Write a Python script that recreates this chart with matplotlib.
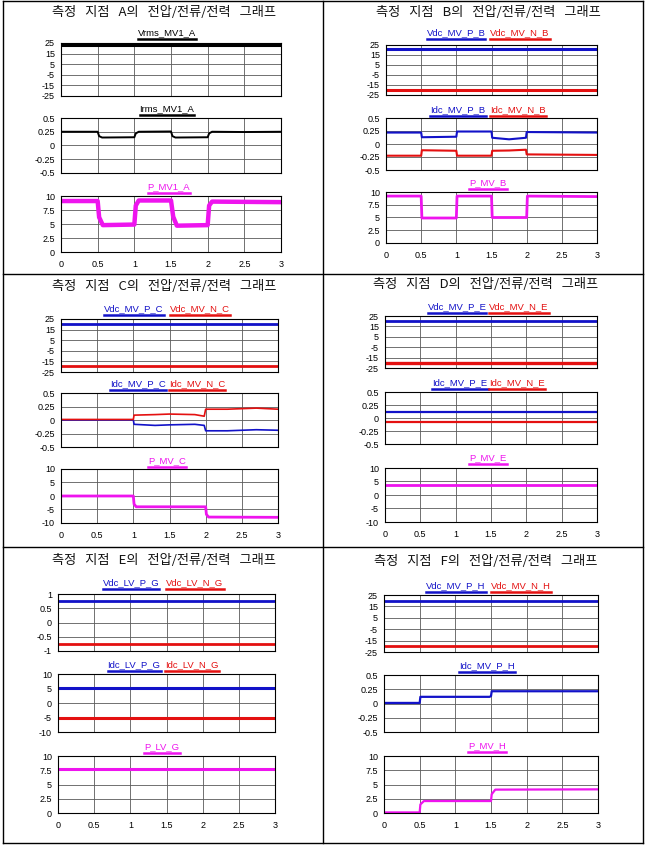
import matplotlib
matplotlib.use('Agg')
import matplotlib.pyplot as plt
from matplotlib.lines import Line2D


# figure size in pixels
W, H = 649, 846

BLUE = '#1212c8'
RED = '#e41010'
MAG = '#ee14ee'
BLACK = '#000000'

titles = ['측정   지점   A의   전압/전류/전력   그래프', '측정   지점   B의   전압/전류/전력   그래프',
          '측정   지점   C의   전압/전류/전력   그래프', '측정   지점   D의   전압/전류/전력   그래프',
          '측정   지점   E의   전압/전류/전력   그래프', '측정   지점   F의   전압/전류/전력   그래프']

x_ticks = [0, 0.5, 1, 1.5, 2, 2.5, 3]
x_tick_labels = ['0', '0.5', '1', '1.5', '2', '2.5', '3']

# y tick sets
yt_v25 = [25, 15, 5, -5, -15, -25]
yt_i05 = [0.5, 0.25, 0, -0.25, -0.5]
yt_p10 = [10, 7.5, 5, 2.5, 0]
yt_pm10 = [10, 5, 0, -5, -10]
yt_v1 = [1, 0.5, 0, -0.5, -1]

# ---- point A
t_vrms_a = [0, 3]
vrms_a = [23.3, 23.3]
t_irms_a = [0, 0.5, 0.52, 0.56, 1.0, 1.02, 1.06, 1.5, 1.52, 1.56, 2.0, 2.02, 2.06, 2.5, 3]
irms_a = [0.25, 0.25, 0.17, 0.145, 0.15, 0.22, 0.25, 0.255, 0.17, 0.145, 0.15, 0.22, 0.25, 0.245, 0.25]
t_p_a = [0, 0.5, 0.52, 0.57, 1.0, 1.02, 1.06, 1.5, 1.53, 1.58, 2.0, 2.02, 2.06, 3]
p_a = [9.1, 9.1, 6.2, 4.8, 4.9, 8.3, 9.2, 9.2, 6.3, 4.7, 4.8, 8.3, 9.0, 8.9]

# ---- point B
t_vdc_b = [0, 3]
vdc_p_b = [20.5, 20.5]
vdc_n_b = [-20.5, -20.5]
t_idc_b = [0, 0.5, 0.51, 1.0, 1.01, 1.5, 1.51, 1.75, 1.99, 2.0, 3]
idc_p_b = [0.22, 0.22, 0.13, 0.14, 0.24, 0.24, 0.12, 0.09, 0.12, 0.23, 0.22]
idc_n_b = [-0.225, -0.225, -0.12, -0.13, -0.225, -0.225, -0.13, -0.125, -0.11, -0.2, -0.21]
t_p_b = [0, 0.5, 0.51, 1.0, 1.01, 1.5, 1.51, 2.0, 2.01, 3]
p_b = [9.2, 9.2, 4.9, 4.9, 9.2, 9.2, 5.0, 5.0, 9.2, 9.1]

# ---- point C
t_vdc_c = [0, 3]
vdc_p_c = [20.2, 20.2]
vdc_n_c = [-19.6, -19.6]
t_idc_c = [0, 1.0, 1.01, 1.3, 1.5, 1.85, 1.98, 2.0, 2.3, 2.7, 3]
idc_p_c = [0.0, 0.0, -0.08, -0.1, -0.09, -0.08, -0.1, -0.2, -0.2, -0.18, -0.19]
idc_n_c = [0.01, 0.01, 0.09, 0.1, 0.11, 0.1, 0.07, 0.2, 0.2, 0.22, 0.2]
t_p_c = [0, 1.0, 1.01, 1.04, 2.0, 2.01, 2.04, 3]
p_c = [0.0, 0.0, -3.0, -4.0, -4.0, -6.8, -7.8, -7.9]

# ---- point D
t_d = [0, 3]
vdc_p_d = [19.8, 19.8]
vdc_n_d = [-19.8, -19.8]
idc_p_d = [0.11, 0.11]
idc_n_d = [-0.08, -0.08]
p_d = [3.8, 3.8]

# ---- point E
t_e = [0, 3]
vdc_p_e = [0.76, 0.76]
vdc_n_e = [-0.76, -0.76]
idc_p_e = [5.1, 5.1]
idc_n_e = [-5.1, -5.1]
p_e = [7.8, 7.8]

# ---- point F
t_vdc_f = [0, 3]
vdc_p_f = [20.0, 20.0]
vdc_n_f = [-19.7, -19.7]
t_idc_f = [0, 0.5, 0.51, 1.48, 1.5, 1.51, 3]
idc_p_f = [0.01, 0.01, 0.117, 0.117, 0.13, 0.215, 0.215]
t_p_f = [0, 0.5, 0.51, 0.56, 1.5, 1.51, 1.56, 3]
p_f = [0.1, 0.1, 1.5, 2.1, 2.1, 3.3, 4.1, 4.15]


fig = plt.figure(figsize=(W / 100, H / 100), dpi=100)
fig.patch.set_facecolor('white')
labels = []


def fx(px):
    return px / W


def fy(py):
    return 1 - py / H


def make_axes(x0, x1, y0, y1, ylim, yticks, bottom=False):
    ax = fig.add_axes([fx(x0), fy(y1), (x1 - x0) / W, (y1 - y0) / H])
    ax.set_xlim(0, 3)
    ax.set_ylim(*ylim)
    ax.set_xticks(x_ticks)
    ax.set_yticks(yticks)
    ax.set_yticklabels(['%g' % v for v in yticks], family='Liberation Sans')
    if bottom:
        ax.set_xticklabels(x_tick_labels, family='Liberation Sans')
    else:
        ax.set_xticklabels([])
    ax.tick_params(length=0, labelsize=6.5, pad=4.3)
    ax.tick_params(axis='x', pad=5.5)
    ax.grid(True, color='#5a5a5a', lw=0.6)
    ax.set_axisbelow(True)
    for s in ax.spines.values():
        s.set_color('black')
        s.set_linewidth(0.8)
    return ax


def series_label(x_px, y_px, text, color):
    t = fig.text(fx(x_px), fy(y_px), text, color=color, ha='center', va='center',
                 fontsize=6.8, family='Liberation Sans')
    labels.append((t, color))


def title(x_px, y_px, text):
    fig.text(fx(x_px), fy(y_px), text, ha='center', va='center', fontsize=9.5,
             family=['Noto Sans CJK KR', 'DejaVu Sans'], color='#111111')


# Panel A
title(164, 12, titles[0])
ax = make_axes(61, 281, 43, 96, (-25, 25), yt_v25)
ax.plot(t_vrms_a, vrms_a, color=BLACK, lw=2.2)
series_label(167, 33, 'Vrms_MV1_A', BLACK)
ax = make_axes(61, 281, 118, 173, (-0.5, 0.5), yt_i05)
ax.plot(t_irms_a, irms_a, color=BLACK, lw=1.4)
series_label(167, 109, 'Irms_MV1_A', BLACK)
ax = make_axes(61, 281, 196, 252, (0, 10), yt_p10, bottom=True)
ax.plot(t_p_a, p_a, color=MAG, lw=3.2)
series_label(169, 187, 'P_MV1_A', MAG)

# Panel B
title(488, 13, titles[1])
ax = make_axes(386, 597, 45, 95, (-25, 25), yt_v25)
ax.plot(t_vdc_b, vdc_p_b, color=BLUE, lw=2.2)
ax.plot(t_vdc_b, vdc_n_b, color=RED, lw=2.2)
series_label(456, 33, 'Vdc_MV_P_B', BLUE)
series_label(520, 33, 'Vdc_MV_N_B', RED)
ax = make_axes(386, 597, 118, 170, (-0.5, 0.5), yt_i05)
ax.plot(t_idc_b, idc_p_b, color=BLUE, lw=1.5)
ax.plot(t_idc_b, idc_n_b, color=RED, lw=1.5)
series_label(458, 110, 'Idc_MV_P_B', BLUE)
series_label(518, 110, 'Idc_MV_N_B', RED)
ax = make_axes(386, 597, 192, 243, (0, 10), yt_p10, bottom=True)
ax.plot(t_p_b, p_b, color=MAG, lw=2.0)
series_label(488, 183, 'P_MV_B', MAG)

# Panel C
title(164, 287, titles[2])
ax = make_axes(61, 278, 319, 372, (-25, 25), yt_v25)
ax.plot(t_vdc_c, vdc_p_c, color=BLUE, lw=2.0)
ax.plot(t_vdc_c, vdc_n_c, color=RED, lw=2.0)
series_label(134, 309, 'Vdc_MV_P_C', BLUE)
series_label(200, 309, 'Vdc_MV_N_C', RED)
ax = make_axes(61, 278, 393, 447, (-0.5, 0.5), yt_i05)
ax.plot(t_idc_c, idc_p_c, color=BLUE, lw=1.2)
ax.plot(t_idc_c, idc_n_c, color=RED, lw=1.2)
series_label(138, 384, 'Idc_MV_P_C', BLUE)
series_label(197, 384, 'Idc_MV_N_C', RED)
ax = make_axes(61, 278, 469, 523, (-10, 10), yt_pm10, bottom=True)
ax.plot(t_p_c, p_c, color=MAG, lw=2.0)
series_label(167, 461, 'P_MV_C', MAG)

# Panel D
title(486, 284, titles[3])
ax = make_axes(385, 597, 316, 368, (-25, 25), yt_v25)
ax.plot(t_d, vdc_p_d, color=BLUE, lw=2.0)
ax.plot(t_d, vdc_n_d, color=RED, lw=2.4)
series_label(457, 307, 'Vdc_MV_P_E', BLUE)
series_label(519, 307, 'Vdc_MV_N_E', RED)
ax = make_axes(385, 597, 392, 444, (-0.5, 0.5), yt_i05)
ax.plot(t_d, idc_p_d, color=BLUE, lw=1.6)
ax.plot(t_d, idc_n_d, color=RED, lw=1.6)
series_label(460, 383, 'Idc_MV_P_E', BLUE)
series_label(517, 383, 'Idc_MV_N_E', RED)
ax = make_axes(385, 597, 468, 522, (-10, 10), yt_pm10, bottom=True)
ax.plot(t_d, p_d, color=MAG, lw=2.0)
series_label(488, 458, 'P_MV_E', MAG)

# Panel E
title(164, 560, titles[4])
ax = make_axes(58, 275, 594, 651, (-1, 1), yt_v1)
ax.plot(t_e, vdc_p_e, color=BLUE, lw=2.0)
ax.plot(t_e, vdc_n_e, color=RED, lw=2.0)
series_label(131, 583, 'Vdc_LV_P_G', BLUE)
series_label(195, 583, 'Vdc_LV_N_G', RED)
ax = make_axes(58, 275, 674, 732, (-10, 10), yt_pm10)
ax.plot(t_e, idc_p_e, color=BLUE, lw=2.2)
ax.plot(t_e, idc_n_e, color=RED, lw=2.2)
series_label(134, 665, 'Idc_LV_P_G', BLUE)
series_label(192, 665, 'Idc_LV_N_G', RED)
ax = make_axes(58, 275, 756, 813, (0, 10), yt_p10, bottom=True)
ax.plot(t_e, p_e, color=MAG, lw=2.2)
series_label(162, 747, 'P_LV_G', MAG)

# Panel F
title(486, 561, titles[5])
ax = make_axes(384, 598, 595, 652, (-25, 25), yt_v25)
ax.plot(t_vdc_f, vdc_p_f, color=BLUE, lw=2.0)
ax.plot(t_vdc_f, vdc_n_f, color=RED, lw=2.0)
series_label(456, 586, 'Vdc_MV_P_H', BLUE)
series_label(521, 586, 'Vdc_MV_N_H', RED)
ax = make_axes(384, 598, 675, 732, (-0.5, 0.5), yt_i05)
ax.plot(t_idc_f, idc_p_f, color=BLUE, lw=1.6)
series_label(487, 666, 'Idc_MV_P_H', BLUE)
ax = make_axes(384, 598, 756, 813, (0, 10), yt_p10, bottom=True)
ax.plot(t_p_f, p_f, color=MAG, lw=1.6)
series_label(487, 746, 'P_MV_H', MAG)

# table borders
for xs, ys in [([3, 643], [1, 1]), ([3, 643], [274, 274]), ([3, 643], [547, 547]),
               ([3, 643], [843, 843]), ([3, 3], [1, 843]), ([643, 643], [1, 843]),
               ([323, 323], [1, 843])]:
    fig.add_artist(Line2D([fx(x) for x in xs], [fy(y) for y in ys], color='black', lw=1.0))

# underline the series names
fig.canvas.draw()
renderer = fig.canvas.get_renderer()
for t, c in labels:
    bb = t.get_window_extent(renderer)
    y = (bb.y0 - 1.5) / H
    fig.add_artist(Line2D([bb.x0 / W, bb.x1 / W], [y, y], color=c, lw=1.8))

fig.savefig('out.png', dpi=100)
